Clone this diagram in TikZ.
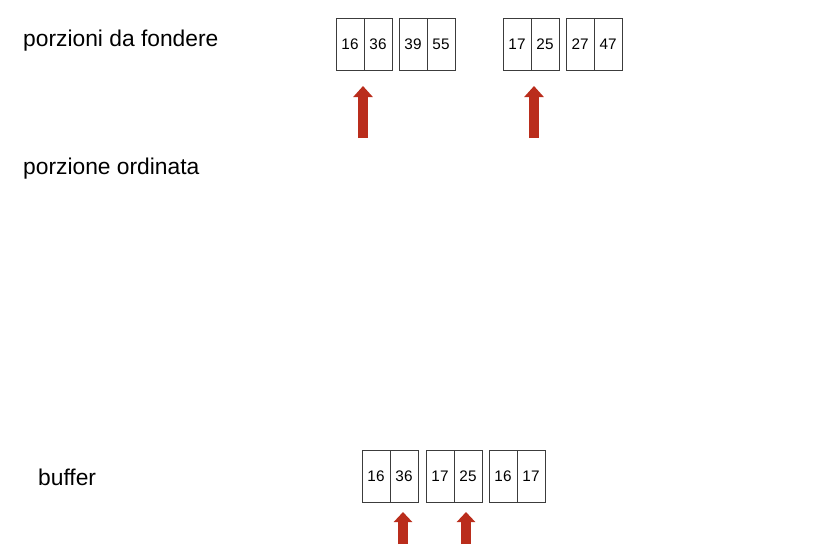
\documentclass[tikz,border=0pt]{standalone}
\usepackage{fontspec}
\setmainfont{Liberation Sans}
\usetikzlibrary{arrows.meta}
\definecolor{ptrred}{RGB}{186,45,28}
\definecolor{boxline}{RGB}{60,60,60}
\tikzset{
  cell/.style={draw=boxline, line width=0.8pt, minimum width=28pt, minimum height=52pt, inner sep=0pt, font=\fontsize{15.3}{17}\selectfont},
  lbl/.style={anchor=base west, inner sep=0pt, font=\fontsize{22.8}{26}\selectfont},
  bigptr/.style={draw=ptrred, line width=10pt, -{Triangle[length=11pt,width=19pt]}, ptrred},
  smallptr/.style={draw=ptrred, line width=10pt, -{Triangle[length=10pt,width=18pt]}, ptrred}
}
\begin{document}
\begin{tikzpicture}[x=1pt,y=-1pt]
\useasboundingbox (0,0) rectangle (837,550);
% labels
\node[lbl] (l1) at (23,46) {porzioni da fondere};
\node[lbl] (l2) at (23,174) {porzione ordinata};
\node[lbl] (l3) at (38,485) {buffer};
% top cells
\node[cell] (t1) at (350,44) {16};
\node[cell] (t2) at (378,44) {36};
\node[cell] (t3) at (413,44) {39};
\node[cell] (t4) at (441,44) {55};
\node[cell] (t5) at (517,44) {17};
\node[cell] (t6) at (545,44) {25};
\node[cell] (t7) at (580,44) {27};
\node[cell] (t8) at (608,44) {47};
% bottom cells
\node[cell] (b1) at (376,476) {16};
\node[cell] (b2) at (404,476) {36};
\node[cell] (b3) at (440,476) {17};
\node[cell] (b4) at (468,476) {25};
\node[cell] (b5) at (503,476) {16};
\node[cell] (b6) at (531,476) {17};
% pointers
\coordinate (p1s) at (363,138);
\coordinate (p1e) at (363,86);
\coordinate (p2s) at (534,138);
\coordinate (p2e) at (534,86);
\coordinate (p3s) at (403,544);
\coordinate (p3e) at (403,512);
\coordinate (p4s) at (466,544);
\coordinate (p4e) at (466,512);
\draw[bigptr] (p1s) -- (p1e);
\draw[bigptr] (p2s) -- (p2e);
\draw[smallptr] (p3s) -- (p3e);
\draw[smallptr] (p4s) -- (p4e);
\end{tikzpicture}
\end{document}
